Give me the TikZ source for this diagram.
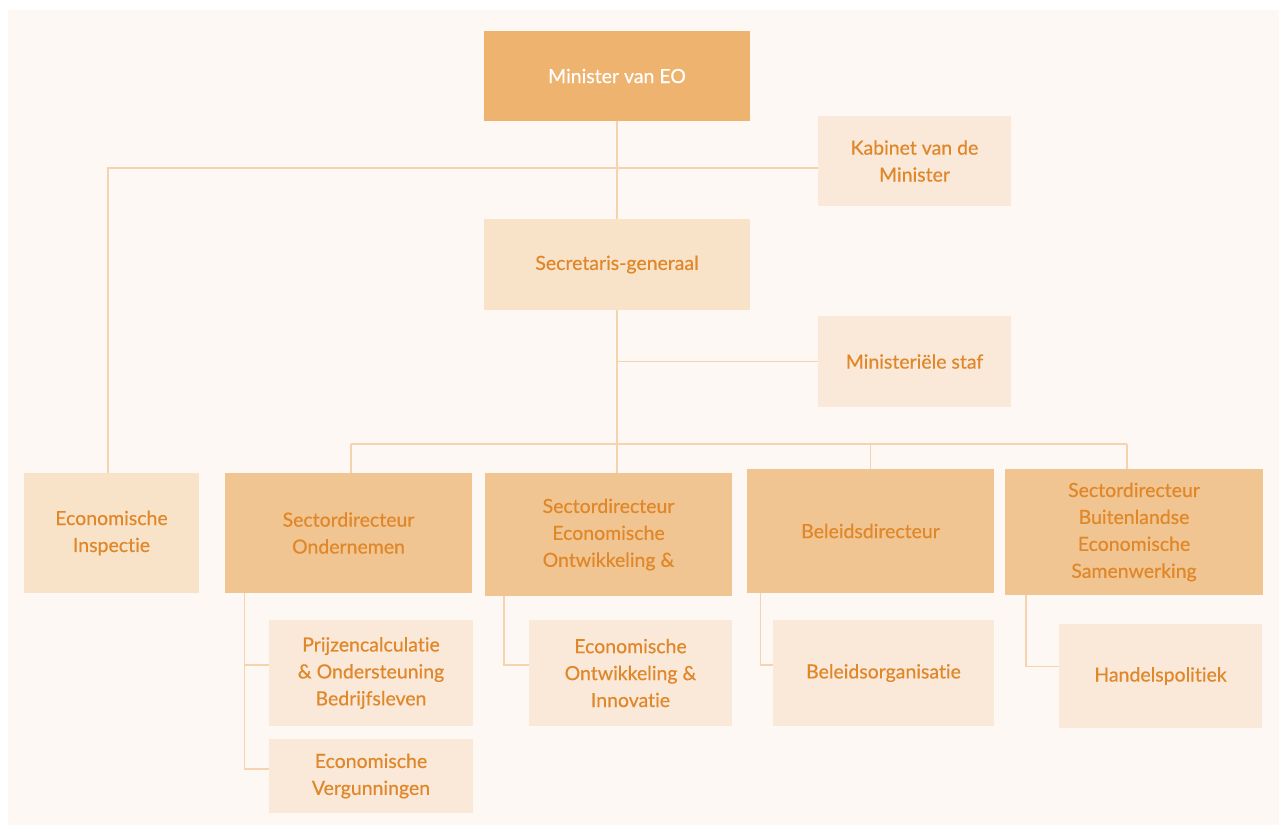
\documentclass[tikz,border=0pt]{standalone}
\usepackage{fontspec}
\setmainfont{Lato}[Ligatures=NoCommon, FakeBold=0.5]
\definecolor{bgcream}{HTML}{FDF8F4}
\definecolor{topfill}{HTML}{EDB36F}
\definecolor{midfill}{HTML}{F1C592}
\definecolor{lightA}{HTML}{F8E3C9}
\definecolor{lightB}{HTML}{FAE8D8}
\definecolor{txtor}{HTML}{E0872A}
\definecolor{linecol}{HTML}{F5D3AE}
\begin{document}
\begin{tikzpicture}[x=0.75pt,y=-0.75pt,
  box/.style={rectangle, inner sep=0pt, align=center, text=txtor,
    font=\fontsize{14.6}{20.2}\selectfont},
  topbox/.style={box, fill=topfill, text=white},
  midbox/.style={box, fill=midfill},
  lbox/.style={box, fill=lightA},
  sbox/.style={box, fill=lightB},
  conn/.style={draw=linecol, line width=1.1pt}]
\useasboundingbox (0,0) rectangle (1279,825);
\fill[white] (0,0) rectangle (1279,825);
\fill[bgcream] (8,10) rectangle (1279,825);

% coordinates for connector bends
\coordinate (ik) at (108,168);
\coordinate (sj) at (617,361.5);
\coordinate (busL) at (351,444);
\coordinate (busR) at (1127,444);
\coordinate (b1) at (244.5,665);
\coordinate (b2) at (244.5,769);
\coordinate (b3) at (504,665);
\coordinate (b4) at (760.5,665);
\coordinate (b5) at (1026,666.5);

\node[topbox, minimum width=266*0.75pt, minimum height=90*0.75pt] (min) at (617,76) {Minister van EO};
\node[sbox, minimum width=193*0.75pt, minimum height=90*0.75pt] (kab) at (914.5,161) {Kabinet van de\\Minister};
\node[lbox, minimum width=266*0.75pt, minimum height=91*0.75pt] (sec) at (617,264.5) {Secretaris-generaal};
\node[sbox, minimum width=193*0.75pt, minimum height=91*0.75pt] (staf) at (914.5,361.5) {Ministeriële staf};
\node[lbox, minimum width=175*0.75pt, minimum height=120*0.75pt] (insp) at (111.5,533) {Economische\\Inspectie};
\node[midbox, minimum width=247*0.75pt, minimum height=120*0.75pt] (ond) at (348.5,533) {Sectordirecteur\\Ondernemen};
\node[midbox, minimum width=247*0.75pt, minimum height=123*0.75pt] (eo) at (608.5,534.5) {Sectordirecteur\\Economische\\Ontwikkeling \&};
\node[midbox, minimum width=247*0.75pt, minimum height=124*0.75pt] (bel) at (870.5,531) {Beleidsdirecteur};
\node[midbox, minimum width=258*0.75pt, minimum height=126*0.75pt] (bui) at (1134,532) {Sectordirecteur\\Buitenlandse\\Economische\\Samenwerking};
\node[sbox, minimum width=204*0.75pt, minimum height=106*0.75pt] (pbz) at (371,673) {Prijzencalculatie\\\& Ondersteuning\\Bedrijfsleven};
\node[sbox, minimum width=204*0.75pt, minimum height=74*0.75pt] (verg) at (371,776) {Economische\\Vergunningen};
\node[sbox, minimum width=203*0.75pt, minimum height=106*0.75pt] (eoi) at (630.5,673) {Economische\\Ontwikkeling \&\\Innovatie};
\node[sbox, minimum width=221*0.75pt, minimum height=106*0.75pt] (bor) at (883.5,673) {Beleidsorganisatie};
\node[sbox, minimum width=203*0.75pt, minimum height=104*0.75pt] (han) at (1160.5,676) {Handelspolitiek};

% connectors
\draw[conn] (min.south) -- (sec.north);
\draw[conn] (insp.north -| ik) -- (ik) -- (kab.west |- ik);
\draw[conn] (sec.south) -- (sec.south |- eo.north);
\draw[conn] (sj) -- (staf.west |- sj);
\draw[conn] (busL) -- (busR);
\draw[conn] (busL) -- (busL |- ond.north);
\draw[conn] (busR) -- (busR |- bui.north);
\draw[conn] (bel.north |- busL) -- (bel.north);
\draw[conn] (b1 |- ond.south) -- (b2) -- (b2 -| verg.west);
\draw[conn] (b1) -- (b1 -| pbz.west);
\draw[conn] (b3 |- eo.south) -- (b3) -- (b3 -| eoi.west);
\draw[conn] (b4 |- bel.south) -- (b4) -- (b4 -| bor.west);
\draw[conn] (b5 |- bui.south) -- (b5) -- (b5 -| han.west);
\end{tikzpicture}
\end{document}
